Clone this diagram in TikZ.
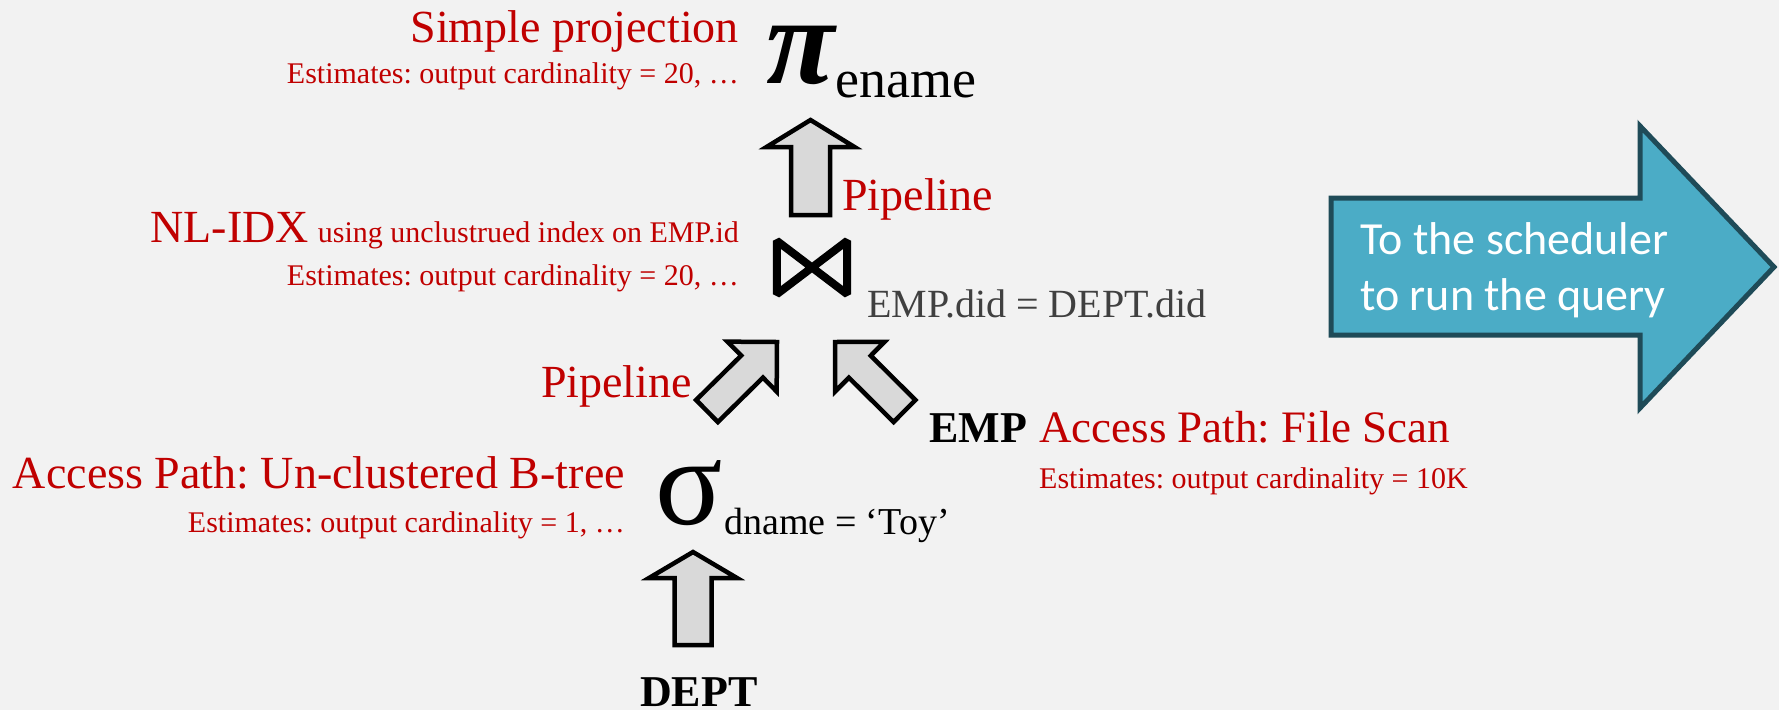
\documentclass[tikz,border=0pt]{standalone}
\usepackage{fontspec}
\setmainfont{Liberation Serif}
\newfontfamily\calib{Carlito}
\usetikzlibrary{calc}
\definecolor{dred}{HTML}{C00000}
\definecolor{bgc}{HTML}{F2F2F2}
\definecolor{dgray}{HTML}{404040}
\definecolor{arrfill}{HTML}{D9D9D9}
\definecolor{teal}{HTML}{4BACC6}
\definecolor{tealdark}{HTML}{1F4B58}
\newcommand\fs[1]{\fontsize{#1}{#1}\selectfont}
\newcommand\blockarrow[5]{%
  \coordinate (hb) at ($(#2)!#5!(#1)$);
  \draw[blockarr] ($(#1)!#3!90:(#2)$) -- ($(hb)!#3!90:(#2)$) -- ($(hb)!#4!90:(#2)$)
    -- (#2) -- ($(hb)!#4!-90:(#2)$) -- ($(hb)!#3!-90:(#2)$) -- ($(#1)!#3!-90:(#2)$) -- cycle;}
\tikzset{
  lbl/.style={inner sep=0pt, text=dred},
  big/.style={lbl, font=\frenchspacing\fs{46}},
  small/.style={lbl, font=\frenchspacing\fs{30}},
  op/.style={inner sep=0pt, text height=60pt, text depth=2pt, font=\fs{125}},
  sub/.style={inner sep=0pt},
  rel/.style={inner sep=0pt, text height=30pt, text depth=0pt, font=\bfseries\fs{44}},
  blockarr/.style={fill=arrfill, draw=black, line width=4.5pt, line join=miter, miter limit=10},
  bowtie/.style={draw=black, line width=8pt, line join=bevel},
  bigarrow/.style={fill=teal, draw=tealdark, line width=5pt, line join=miter},
}
\begin{document}
\begin{tikzpicture}[x=1pt, y=-1pt]
\fill[bgc] (0,0) rectangle (1779,710);
\useasboundingbox (0,0) rectangle (1779,710);

% projection
\node[op, anchor=base west, font=\bfseries\itshape\fs{125}] (pi) at (766,83) {π};
\node[sub, anchor=base west, font=\fs{54}] (piname) at (835,97) {ename};
\node[big, anchor=base east] (projlbl) at (739,42) {Simple projection};
\node[small, anchor=base east] (projest) at (739,83) {Estimates: output cardinality = 20, \ldots};

% join
\node[minimum width=70pt, minimum height=53pt, inner sep=0pt] (join) at (812,267.5) {};
\draw[bowtie] (join.north west) -- (join.south east) -- (join.north east) -- (join.south west) -- cycle;
\node[sub, anchor=base west, font=\fs{40}, text=dgray] (joincond) at (867,317) {EMP.did = DEPT.did};
\node[lbl, anchor=base east, font=\frenchspacing] (joinlbl) at (739,242) {{\fs{46}NL-IDX}\hspace{9pt}{\fs{30}using unclustrued index on EMP.id}};
\node[small, anchor=base east] (joinest) at (739,285) {Estimates: output cardinality = 20, \ldots};

% selection
\node[op, anchor=base west] (sigma) at (655,524) {σ};
\node[sub, anchor=base west, font=\fs{38}] (signame) at (724,534) {dname = ‘Toy’};
\node[big, anchor=base east] (siglbl) at (625,488) {Access Path: Un-clustered B-tree};
\node[small, anchor=base east] (sigest) at (625,532) {Estimates: output cardinality = 1, \ldots};

% relations
\node[rel, anchor=base west] (dept) at (640,706) {DEPT};
\node[rel, anchor=base west] (emp) at (929,442) {EMP};
\node[lbl, anchor=base west, font=\frenchspacing\fs{45}] (emplbl) at (1039,442) {Access Path: File Scan};
\node[small, anchor=base west] (empest) at (1039,488) {Estimates: output cardinality = 10K};

% pipeline labels
\node[big, anchor=base west] (pipe1) at (842,210) {Pipeline};
\node[big, anchor=base east] (pipe2) at (692,397) {Pipeline};

% block arrows
\coordinate (a1t) at (810.5,215);
\coordinate (a1h) at (810.5,120);
\coordinate (a2t) at (693,645);
\coordinate (a2h) at (693,552);
\coordinate (a3t) at (707,411);
\coordinate (a3h) at (777,342);
\coordinate (a4t) at (904.5,411);
\coordinate (a4h) at (835,342);
\blockarrow{a1t}{a1h}{19.5pt}{44pt}{27pt}
\blockarrow{a2t}{a2h}{18.5pt}{44pt}{26pt}
\blockarrow{a3t}{a3h}{15.5pt}{35pt}{35pt}
\blockarrow{a4t}{a4h}{15.5pt}{35pt}{35pt}

% scheduler arrow
\draw[bigarrow] (1331,198) -- (1640,198) -- (1640,126) -- (1774,267) -- (1640,408) -- (1640,335) -- (1331,335) -- cycle;
\node[inner sep=0pt, text=white, align=left, font=\calib\fs{46}, anchor=base west] (sched) at (1360,310) {To the scheduler\\[10pt]to run the query};
\end{tikzpicture}
\end{document}
